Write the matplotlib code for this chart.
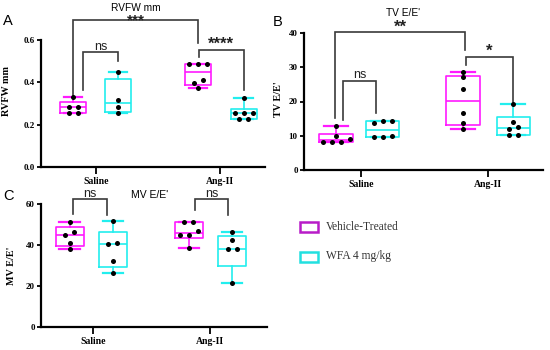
import numpy as np
import matplotlib
matplotlib.use('Agg')
import matplotlib.pyplot as plt
from matplotlib.patches import Rectangle

# ---------------- data ----------------
groups = ['Saline', 'Ang-II']
series_names = ['Vehicle-Treated', 'WFA 4 mg/kg']

rvfw_vehicle_saline = [0.33, 0.285, 0.285, 0.254, 0.254]
rvfw_wfa_saline = [0.447, 0.316, 0.285, 0.254]
rvfw_vehicle_ang = [0.487, 0.487, 0.487, 0.411, 0.395, 0.372]
rvfw_wfa_ang = [0.326, 0.257, 0.257, 0.257, 0.228, 0.228]

tv_vehicle_saline = [12.9, 9.9, 9.15, 8.27, 8.27, 8.27]
tv_wfa_saline = [14.4, 13.6, 14.4, 9.7, 9.9, 9.7]
tv_vehicle_ang = [28.7, 27.1, 23.6, 16.7, 13.6, 12.0]
tv_wfa_ang = [19.2, 14.1, 12.6, 12.0, 10.2, 10.2]

mv_vehicle_saline = [51.1, 46.5, 44.9, 41.1, 38.0]
mv_wfa_saline = [51.7, 41.2, 40.6, 32.2, 26.1]
mv_vehicle_ang = [51.4, 51.4, 46.8, 44.9, 44.9, 38.7]
mv_wfa_ang = [46.5, 42.4, 38.0, 38.0, 21.7]

# ---------------- style ----------------
MAG = '#FF1AFF'
CYN = '#22EEEE'
LEG_MAG = '#B81CC8'
LEG_CYN = '#22E0E0'
SERIF = 'Liberation Serif'
SANS = 'Liberation Sans'
BR = '#3a3a3a'

fig = plt.figure(figsize=(5.5, 3.5), dpi=100)
W, H = 550.0, 350.0


def add_axes_px(x0, x1, ytop, ybot):
    return fig.add_axes([x0 / W, 1 - ybot / H, (x1 - x0) / W, (ybot - ytop) / H])


def swarm_offsets(ax, vals, thresh_px=4.5, spacing_px=9.0):
    vals = np.asarray(vals, float)
    order = np.argsort(vals, kind='stable')
    ypx = ax.transData.transform(np.column_stack([np.ones_like(vals), vals]))[:, 1]
    x0 = ax.transData.transform([[0, 0]])[0, 0]
    x1 = ax.transData.transform([[1, 0]])[0, 0]
    px_per_unit = x1 - x0
    offs = np.zeros(len(vals))
    rows = []
    for i in order:
        if rows and abs(ypx[i] - ypx[rows[-1][0]]) < thresh_px:
            rows[-1].append(i)
        else:
            rows.append([i])
    for r in rows:
        n = len(r)
        for k, i in enumerate(r):
            offs[i] = (k - (n - 1) / 2) * spacing_px / px_per_unit
    return offs


def bx_stats(vals):
    v = np.asarray(vals, float)
    q1, med, q3 = np.percentile(v, [25, 50, 75], method='weibull')
    return dict(med=med, q1=q1, q3=q3, whislo=v.min(), whishi=v.max(), fliers=[])


def panel(ax, xlim, data, ylim, yticks, yfmt, ylabel, ylabel_xy, offsets, width):
    ax.set_xlim(*xlim)
    ax.set_ylim(*ylim)
    ax.set_autoscale_on(False)
    for sp in ['top', 'right']:
        ax.spines[sp].set_visible(False)
    for sp in ['left', 'bottom']:
        ax.spines[sp].set_linewidth(1.6)
    for gi, g in enumerate([1, 2]):
        for si, col in enumerate([MAG, CYN]):
            vals = data[gi][si]
            pos = g + offsets[gi][si]
            ax.bxp([bx_stats(vals)], positions=[pos], widths=width,
                   capwidths=width * 0.72, showfliers=False, patch_artist=False,
                   manage_ticks=False,
                   boxprops=dict(color=col, lw=1.2),
                   whiskerprops=dict(color=col, lw=1.2),
                   capprops=dict(color=col, lw=1.6),
                   medianprops=dict(color=col, lw=1.2))
            offs = swarm_offsets(ax, vals)
            ax.scatter(pos + offs, vals, s=13, color='black', zorder=5, lw=0)
    ax.set_xlim(*xlim)
    ax.set_ylim(*ylim)
    ax.set_yticks(yticks)
    ax.set_yticklabels([yfmt.format(t) for t in yticks], fontfamily=SERIF,
                       fontweight='bold', fontsize=6.5)
    ax.set_xticks([1, 2])
    ax.set_xticklabels(groups, fontfamily=SERIF, fontweight='bold', fontsize=7)
    ax.tick_params(axis='y', length=3, width=1.3, pad=1.5)
    ax.tick_params(axis='x', length=5, width=1.3, pad=2)
    ax.set_ylabel(ylabel, fontfamily=SERIF, fontweight='bold', fontsize=7.3)
    ax.yaxis.set_label_coords(*ylabel_xy)


def bracket(ax, xl, xr, ytop, yl, yr, label, ty, fs, bold=False):
    ax.plot([xl, xl, xr, xr], [yl, ytop, ytop, yr], color=BR, lw=1.2,
            clip_on=False, solid_joinstyle='miter')
    ax.text((xl + xr) / 2, ty, label, ha='center', va='baseline', fontsize=fs,
            fontfamily=SANS, fontweight='bold' if bold else 'normal',
            color='#222222', clip_on=False)


# ---------------- Panel A ----------------
axA = add_axes_px(41, 265, 40, 167)
panel(axA, (0.556, 2.363),
      [[rvfw_vehicle_saline, rvfw_wfa_saline], [rvfw_vehicle_ang, rvfw_wfa_ang]],
      (0, 0.6), [0.0, 0.2, 0.4, 0.6], '{:.1f}', 'RVFW mm', (-0.135, 0.6),
      [[-0.185, 0.177], [-0.177, 0.19]], 0.21)
a = 0.6 / 127
ya = lambda px: (167 - px) * a
bracket(axA, 1 - 0.185, 2 - 0.177, ya(20), ya(95), ya(43), '***', ya(24.5), 11, True)
bracket(axA, 1 - 0.105, 1 + 0.177, ya(52), ya(90), ya(61), 'ns', ya(49.5), 9)
bracket(axA, 2 - 0.169, 2 + 0.19, ya(50), ya(57), ya(90), '****', ya(48.5), 12, True)
axA.text((2 - 0.177 + 1 - 0.185) / 2, ya(11), 'RVFW mm', ha='center', va='baseline',
         fontsize=7.3, fontfamily=SANS, clip_on=False)

# ---------------- Panel B ----------------
axB = add_axes_px(304, 543, 33, 170)
panel(axB, (0.551, 2.433),
      [[tv_vehicle_saline, tv_wfa_saline], [tv_vehicle_ang, tv_wfa_ang]],
      (0, 40), [0, 10, 20, 30, 40], '{:d}', "TV E/E'", (-0.088, 0.52),
      [[-0.197, 0.173], [-0.197, 0.197]], 0.26)
b = 40 / 137
yb = lambda px: (170 - px) * b
bracket(axB, 1 - 0.205, 2 - 0.18, yb(32), yb(118), yb(50), '**', yb(32), 12, True)
bracket(axB, 1 - 0.142, 1 + 0.118, yb(81), yb(120), yb(113), 'ns', yb(78), 9)
bracket(axB, 2 - 0.173, 2 + 0.197, yb(57), yb(65), yb(102), '*', yb(56), 12, True)
axB.text((403 - 304) / 239 * (2.433 - 0.551) + 0.551, yb(16.5), "TV E/E'", ha='center',
         va='baseline', fontsize=7.3, fontfamily=SANS, clip_on=False)

# ---------------- Panel C ----------------
axC = add_axes_px(41, 267, 204, 327)
panel(axC, (0.556, 2.487),
      [[mv_vehicle_saline, mv_wfa_saline], [mv_vehicle_ang, mv_wfa_ang]],
      (0, 60), [0, 20, 40, 60], '{:d}', "MV E/E'", (-0.11, 0.5),
      [[-0.2, 0.17], [-0.18, 0.19]], 0.24)
c = 60 / 123
yc = lambda px: (327 - px) * c
bracket(axC, 1 - 0.171, 1 + 0.12, yc(199), yc(214), yc(215), 'ns', yc(196.5), 9)
bracket(axC, 2 - 0.128, 2 + 0.154, yc(199), yc(210), yc(215), 'ns', yc(196.5), 9)
axC.text((150 - 41) / 226 * (2.487 - 0.556) + 0.556, yc(198), "MV E/E'", ha='center',
         va='baseline', fontsize=7.5, fontfamily=SANS, clip_on=False)

# ---------------- Panel letters ----------------
for lab, x, y in [('A', 8, 25), ('B', 278, 26), ('C', 8, 200)]:
    fig.text(x / W, 1 - y / H, lab, ha='center', va='baseline', fontsize=10.5,
             fontfamily=SANS)

# ---------------- Legend ----------------
for i, (name, col) in enumerate(zip(series_names, [LEG_MAG, LEG_CYN])):
    yc_px = 226.5 + 30 * i
    fig.patches.append(Rectangle((300 / W, 1 - (yc_px + 5) / H), 18 / W, 10 / H,
                                 transform=fig.transFigure, fill=False,
                                 edgecolor=col, lw=1.8))
    fig.text(326 / W, 1 - yc_px / H, name, ha='left', va='center', fontsize=8.3,
             fontfamily=SERIF, color='#333333')

fig.savefig('out.png', dpi=100)
